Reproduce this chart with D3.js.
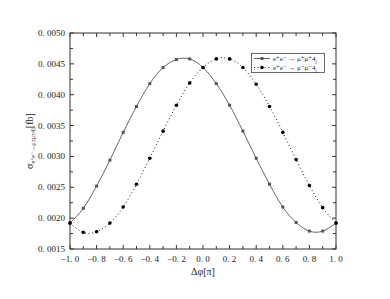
<!DOCTYPE html>
<html>
<head>
<meta charset="utf-8">
<script src="https://cdn.jsdelivr.net/npm/d3@7"></script>
<style>
body { margin: 0; background: #fff; }
text { font-family: "Liberation Serif", "DejaVu Serif", serif; fill: #222; }
</style>
</head>
<body>
<svg id="chart" width="390" height="299"></svg>
<script>
// delta phi in units of pi
const phi = [-1.0,-0.9,-0.8,-0.7,-0.6,-0.5,-0.4,-0.3,-0.2,-0.1,0.0,0.1,0.2,0.3,0.4,0.5,0.6,0.7,0.8,0.9,1.0]
// e+e- -> mu+mu+4j
const sigmaPP = [0.00192,0.00216,0.00252,0.00294,0.00339,0.00381,0.00418,0.00444,0.00457,0.00458,0.00444,0.00418,0.00383,0.00341,0.00297,0.00255,0.00218,0.00193,0.00179,0.00179,0.00192]
// e+e- -> mu-mu-4j
const sigmaMM = [0.00192,0.00177,0.00178,0.00192,0.00218,0.00255,0.00297,0.00341,0.00383,0.00419,0.00444,0.00458,0.00458,0.00444,0.00417,0.00381,0.00339,0.00295,0.00253,0.00217,0.00192]
const xTicks = [-1.0,-0.8,-0.6,-0.4,-0.2,0.0,0.2,0.4,0.6,0.8,1.0]
const xMinor = [-0.9,-0.7,-0.5,-0.3,-0.1,0.1,0.3,0.5,0.7,0.9]
const yTicks = [0.0015,0.0020,0.0025,0.0030,0.0035,0.0040,0.0045,0.0050]
const yMinor = [0.00175,0.00225,0.00275,0.00325,0.00375,0.00425,0.00475]

const svg = d3.select("#chart")
const mLeft = 70, mRight = 336, mTop = 33, mBottom = 249

const x = d3.scaleLinear().domain([-1, 1]).range([mLeft, mRight])
const y = d3.scaleLinear().domain([0.0015, 0.0050]).range([mBottom, mTop])

const fmtX = d => d3.format(".1f")(d).replace(".", ". ").replace("-", "\u2212")
const fmtY = d => d3.format(".4f")(d).replace(".", ". ")

// frame
svg.append("rect")
    .attr("x", mLeft).attr("y", mTop)
    .attr("width", mRight - mLeft).attr("height", mBottom - mTop)
    .attr("fill", "none").attr("stroke", "#333").attr("stroke-width", 1)

// inward ticks on all four sides
const tickG = svg.append("g").attr("stroke", "#333").attr("stroke-width", 1)
const addXTicks = (vals, len) => vals.forEach(v => {
    tickG.append("line").attr("x1", x(v)).attr("x2", x(v)).attr("y1", mBottom).attr("y2", mBottom - len)
    tickG.append("line").attr("x1", x(v)).attr("x2", x(v)).attr("y1", mTop).attr("y2", mTop + len)
})
const addYTicks = (vals, len) => vals.forEach(v => {
    tickG.append("line").attr("x1", mLeft).attr("x2", mLeft + len).attr("y1", y(v)).attr("y2", y(v))
    tickG.append("line").attr("x1", mRight).attr("x2", mRight - len).attr("y1", y(v)).attr("y2", y(v))
})
addXTicks(xTicks, 4)
addXTicks(xMinor, 3)
addYTicks(yTicks, 4)
addYTicks(yMinor, 3)

svg.append("g").selectAll("text")
    .data(xTicks).enter()
    .append("text")
    .attr("x", d => x(d))
    .attr("y", mBottom + 13)
    .attr("text-anchor", "middle")
    .attr("font-size", 9)
    .text(fmtX)

svg.append("g").selectAll("text")
    .data(yTicks).enter()
    .append("text")
    .attr("x", mLeft - 5)
    .attr("y", d => y(d) + 3)
    .attr("text-anchor", "end")
    .attr("font-size", 9)
    .text(fmtY)

// axis titles
svg.append("text")
    .attr("x", (mLeft + mRight) / 2)
    .attr("y", 275)
    .attr("text-anchor", "middle")
    .attr("font-size", 10)
    .text("\u0394\u03c6[\u03c0]")

const yl = svg.append("text")
    .attr("transform", `translate(33, ${(mTop + mBottom) / 2}) rotate(-90)`)
    .attr("text-anchor", "middle")
    .attr("font-size", 10)
yl.append("tspan").text("\u03c3")
yl.append("tspan").attr("font-size", 6).attr("dy", 2).text("e\u207ae\u207b\u2192\u03bc\u00b1\u03bc\u00b14j")
yl.append("tspan").attr("dy", -2).text("[fb]")

// curves
const pts = vals => phi.map((p, i) => [p, vals[i]])
const line = d3.line().x(d => x(d[0])).y(d => y(d[1])).curve(d3.curveNatural)

svg.append("path")
    .attr("d", line(pts(sigmaPP)))
    .attr("fill", "none").attr("stroke", "#666").attr("stroke-width", 1)
svg.append("path")
    .attr("d", line(pts(sigmaMM)))
    .attr("fill", "none").attr("stroke", "#111").attr("stroke-width", 1)
    .attr("stroke-dasharray", "1,2.6")

svg.append("g").selectAll("rect")
    .data(pts(sigmaPP)).enter()
    .append("rect")
    .attr("x", d => x(d[0]) - 1.5).attr("y", d => y(d[1]) - 1.5)
    .attr("width", 3).attr("height", 3)
    .attr("fill", "#555")

svg.append("g").selectAll("circle")
    .data(pts(sigmaMM)).enter()
    .append("circle")
    .attr("cx", d => x(d[0])).attr("cy", d => y(d[1]))
    .attr("r", 1.8)
    .attr("fill", "#000")

// legend
const lg = svg.append("g")
lg.append("rect")
    .attr("x", 251.5).attr("y", 53.5).attr("width", 73).attr("height", 19)
    .attr("fill", "#fff").attr("stroke", "#444").attr("stroke-width", 0.8)
lg.append("line").attr("x1", 254).attr("x2", 270).attr("y1", 58.5).attr("y2", 58.5)
    .attr("stroke", "#666").attr("stroke-width", 1)
lg.append("rect").attr("x", 260.5).attr("y", 57).attr("width", 3).attr("height", 3).attr("fill", "#555")
lg.append("line").attr("x1", 254).attr("x2", 270).attr("y1", 67.5).attr("y2", 67.5)
    .attr("stroke", "#111").attr("stroke-width", 1).attr("stroke-dasharray", "1,2.6")
lg.append("circle").attr("cx", 262).attr("cy", 67.5).attr("r", 1.8).attr("fill", "#000")

const legendText = (yy, sign) => {
    const t = lg.append("text").attr("x", 273).attr("y", yy).attr("font-size", 7)
    t.append("tspan").text("e\u207ae\u207b \u2192 \u03bc" + sign + "\u03bc" + sign + "4")
    t.append("tspan").attr("font-size", 5).attr("dy", 1.5).text("j")
}
legendText(61, "\u207a")
legendText(70, "\u207b")
</script>
</body>
</html>
